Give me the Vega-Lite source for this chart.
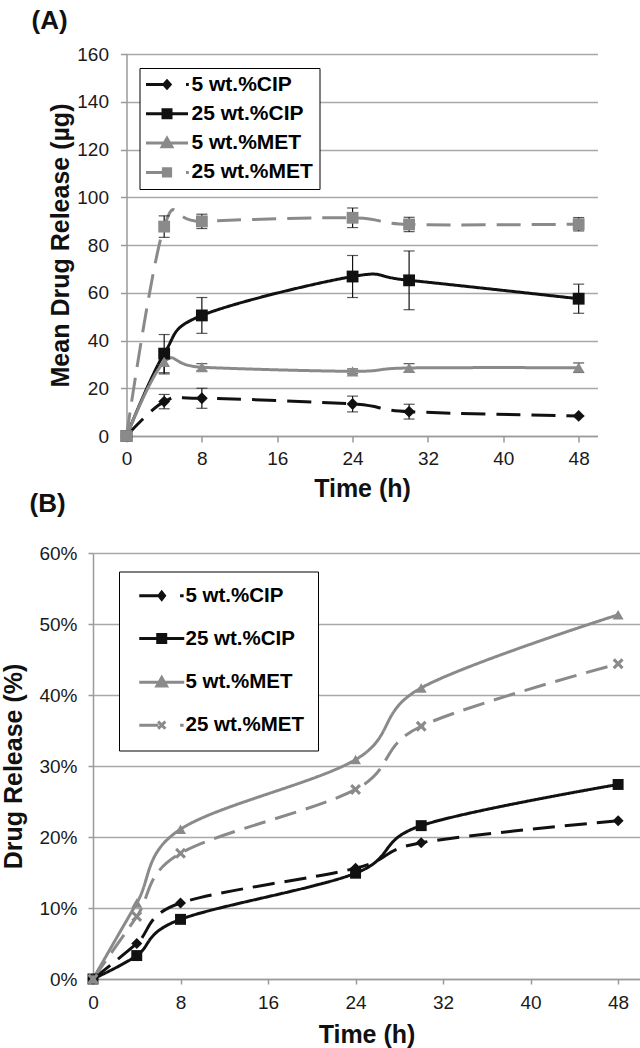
{
  "$schema": "https://vega.github.io/schema/vega-lite/v6.json",
  "padding": {"left": 1, "top": 7, "right": 0, "bottom": 0},
  "title": {"text": "(A)", "anchor": "start", "dx": 30, "offset": 11.5, "fontSize": 26, "font": "Liberation Sans", "fontWeight": "bold", "color": "#111111"},
  "center": true,
  "spacing": -10,
  "resolve": {"scale": {"color": "independent", "shape": "independent", "strokeDash": "independent", "stroke": "independent", "fill": "independent"}},
  "datasets": {
    "a": [
      {"series": "5 wt.%CIP", "time": 0, "value": 0, "err": 0},
      {"series": "5 wt.%CIP", "time": 4, "value": 14.4, "err": 3.0},
      {"series": "5 wt.%CIP", "time": 8, "value": 15.8, "err": 4.2},
      {"series": "5 wt.%CIP", "time": 24, "value": 13.4, "err": 3.3},
      {"series": "5 wt.%CIP", "time": 30, "value": 10.2, "err": 3.1},
      {"series": "5 wt.%CIP", "time": 48, "value": 8.4, "err": 0},
      {"series": "25 wt.%CIP", "time": 0, "value": 0, "err": 0},
      {"series": "25 wt.%CIP", "time": 4, "value": 34.5, "err": 8.0},
      {"series": "25 wt.%CIP", "time": 8, "value": 50.5, "err": 7.5},
      {"series": "25 wt.%CIP", "time": 24, "value": 66.8, "err": 8.8},
      {"series": "25 wt.%CIP", "time": 30, "value": 65.2, "err": 12.3},
      {"series": "25 wt.%CIP", "time": 48, "value": 57.5, "err": 6.1},
      {"series": "5 wt.%MET", "time": 0, "value": 0, "err": 0},
      {"series": "5 wt.%MET", "time": 4, "value": 31.0, "err": 5.0},
      {"series": "5 wt.%MET", "time": 8, "value": 28.8, "err": 1.5},
      {"series": "5 wt.%MET", "time": 24, "value": 27.1, "err": 1.0},
      {"series": "5 wt.%MET", "time": 30, "value": 28.5, "err": 1.8},
      {"series": "5 wt.%MET", "time": 48, "value": 28.6, "err": 2.0},
      {"series": "25 wt.%MET", "time": 0, "value": 0, "err": 0},
      {"series": "25 wt.%MET", "time": 4, "value": 87.7, "err": 4.5},
      {"series": "25 wt.%MET", "time": 8, "value": 89.9, "err": 3.0},
      {"series": "25 wt.%MET", "time": 24, "value": 91.4, "err": 4.1},
      {"series": "25 wt.%MET", "time": 30, "value": 88.6, "err": 3.0},
      {"series": "25 wt.%MET", "time": 48, "value": 88.7, "err": 2.8}
    ],
    "b": [
      {"series": "5 wt.%CIP", "time": 0, "value": 0},
      {"series": "5 wt.%CIP", "time": 4, "value": 0.050},
      {"series": "5 wt.%CIP", "time": 8, "value": 0.107},
      {"series": "5 wt.%CIP", "time": 24, "value": 0.156},
      {"series": "5 wt.%CIP", "time": 30, "value": 0.192},
      {"series": "5 wt.%CIP", "time": 48, "value": 0.223},
      {"series": "25 wt.%CIP", "time": 0, "value": 0},
      {"series": "25 wt.%CIP", "time": 4, "value": 0.033},
      {"series": "25 wt.%CIP", "time": 8, "value": 0.084},
      {"series": "25 wt.%CIP", "time": 24, "value": 0.149},
      {"series": "25 wt.%CIP", "time": 30, "value": 0.216},
      {"series": "25 wt.%CIP", "time": 48, "value": 0.274},
      {"series": "5 wt.%MET", "time": 0, "value": 0},
      {"series": "5 wt.%MET", "time": 4, "value": 0.107},
      {"series": "5 wt.%MET", "time": 8, "value": 0.211},
      {"series": "5 wt.%MET", "time": 24, "value": 0.309},
      {"series": "5 wt.%MET", "time": 30, "value": 0.410},
      {"series": "5 wt.%MET", "time": 48, "value": 0.513},
      {"series": "25 wt.%MET", "time": 0, "value": 0},
      {"series": "25 wt.%MET", "time": 4, "value": 0.088},
      {"series": "25 wt.%MET", "time": 8, "value": 0.177},
      {"series": "25 wt.%MET", "time": 24, "value": 0.267},
      {"series": "25 wt.%MET", "time": 30, "value": 0.356},
      {"series": "25 wt.%MET", "time": 48, "value": 0.444}
    ]
  },
  "vconcat": [
    {
      "width": 471,
      "height": 382,
      "data": {"name": "a"},
      "resolve": {"scale": {"shape": "independent", "fill": "independent", "stroke": "independent"}, "axis": {"y": "independent"}},
      "encoding": {
        "x": {"field": "time", "type": "quantitative", "scale": {"domain": [0, 50], "nice": false},
              "axis": {"values": [0, 8, 16, 24, 32, 40, 48], "grid": false, "title": "Time (h)", "tickSize": 6, "labelPadding": 7, "titlePadding": 8}}
      },
      "layer": [
        {
          "mark": {"type": "line", "interpolate": "cardinal", "strokeWidth": 3},
          "encoding": {
            "y": {"field": "value", "type": "quantitative", "scale": {"domain": [0, 160], "nice": false},
                  "axis": {"values": [0, 20, 40, 60, 80, 100, 120, 140, 160], "title": "Mean Drug Release (µg)", "tickSize": 6, "labelPadding": 12, "titlePadding": 3}},
            "color": {"field": "series", "type": "nominal", "scale": {"domain": ["25 wt.%MET", "5 wt.%MET", "25 wt.%CIP", "5 wt.%CIP"], "range": ["#8a8a8a", "#8a8a8a", "#111111", "#111111"]}, "legend": null},
            "strokeDash": {"field": "series", "type": "nominal", "scale": {"domain": ["25 wt.%MET", "5 wt.%MET", "25 wt.%CIP", "5 wt.%CIP"], "range": [[24, 11], [1, 0], [1, 0], [24, 11]]}, "legend": null}
          }
        },
        {
          "mark": {"type": "errorbar", "ticks": {"size": 11}, "color": "#111111", "thickness": 1.2},
          "encoding": {
            "y": {"field": "value", "type": "quantitative", "scale": {"domain": [0, 160], "nice": false}, "axis": null},
            "yError": {"field": "err"}
          }
        },
        {
          "mark": {"type": "point", "filled": true, "size": 140, "opacity": 1},
          "encoding": {
            "y": {"field": "value", "type": "quantitative", "scale": {"domain": [0, 160], "nice": false}, "axis": null},
            "color": {"field": "series", "type": "nominal", "scale": {"domain": ["25 wt.%MET", "5 wt.%MET", "25 wt.%CIP", "5 wt.%CIP"], "range": ["#8a8a8a", "#8a8a8a", "#111111", "#111111"]}, "legend": null},
            "shape": {"field": "series", "type": "nominal", "scale": {"domain": ["25 wt.%MET", "5 wt.%MET", "25 wt.%CIP", "5 wt.%CIP"], "range": ["square", "triangle-up", "square", "diamond"]}, "legend": null}
          }
        },
        {
          "mark": {"type": "point", "opacity": 0},
          "encoding": {
            "y": {"field": "value", "type": "quantitative", "scale": {"domain": [0, 160], "nice": false},
                  "axis": {"orient": "right", "labels": false, "ticks": false, "domain": false, "grid": false, "title": ".", "titleFontSize": 7, "titlePadding": 2, "titleOpacity": 0, "minExtent": 0, "maxExtent": 0}},
            "fill": {"field": "series", "type": "nominal", "scale": {"domain": ["5 wt.%CIP", "25 wt.%CIP", "5 wt.%MET", "25 wt.%MET"], "range": ["#111111", "#111111", "#8a8a8a", "#8a8a8a"]}},
            "stroke": {"field": "series", "type": "nominal", "scale": {"domain": ["5 wt.%CIP", "25 wt.%CIP", "5 wt.%MET", "25 wt.%MET"], "range": ["#111111", "#111111", "#8a8a8a", "#8a8a8a"]}},
            "shape": {"field": "series", "type": "nominal",
              "scale": {"domain": ["5 wt.%CIP", "25 wt.%CIP", "5 wt.%MET", "25 wt.%MET"],
                        "range": ["M-1.25,0H1.0M0.975,0L1.375,-0.45L1.775,0L1.375,0.45ZM3.75,0H4.1", "M-1.25,0H4M0.875,-0.5H1.875V0.5H0.875Z", "M-1.25,0H4M0.775,0.45L1.375,-0.6L1.975,0.45Z", "M-1.25,0H1.0M0.925,-0.45H1.825V0.45H0.925ZM3.75,0H4.1"]},
              "legend": {
                "title": null, "orient": "none", "legendX": 13, "legendY": 14, "padding": 6,
                "strokeColor": "#000000", "fillColor": "#ffffff",
                "labelFont": "Liberation Sans", "labelFontSize": 21, "labelFontWeight": "bold", "labelColor": "#000000",
                "symbolSize": 256, "symbolStrokeWidth": 3, "symbolOpacity": 1, "labelOffset": 25, "rowPadding": 7.3
              }
            }
          }
        }
      ]
    },
    {
      "width": 547,
      "height": 426,
      "data": {"name": "b"},
      "title": {"text": "(B)", "anchor": "start", "dx": 28, "offset": 27, "fontSize": 26, "font": "Liberation Sans", "fontWeight": "bold", "color": "#111111"},
      "resolve": {"scale": {"shape": "independent", "fill": "independent", "stroke": "independent"}},
      "encoding": {
        "x": {"field": "time", "type": "quantitative", "scale": {"domain": [0, 50], "nice": false},
              "axis": {"values": [0, 8, 16, 24, 32, 40, 48], "grid": false, "title": "Time (h)", "tickSize": 5, "labelPadding": 9.5, "titlePadding": 10}},
        "y": {"field": "value", "type": "quantitative", "scale": {"domain": [0, 0.6], "nice": false},
              "axis": {"values": [0, 0.1, 0.2, 0.3, 0.4, 0.5, 0.6], "format": ".0%", "title": "Drug Release (%)", "tickSize": 5, "labelPadding": 11, "titlePadding": 12.5}}
      },
      "layer": [
        {
          "mark": {"type": "line", "interpolate": "cardinal", "strokeWidth": 3},
          "encoding": {
            "color": {"field": "series", "type": "nominal", "scale": {"domain": ["25 wt.%MET", "5 wt.%MET", "25 wt.%CIP", "5 wt.%CIP"], "range": ["#8a8a8a", "#8a8a8a", "#111111", "#111111"]}, "legend": null},
            "strokeDash": {"field": "series", "type": "nominal", "scale": {"domain": ["25 wt.%MET", "5 wt.%MET", "25 wt.%CIP", "5 wt.%CIP"], "range": [[22, 10], [1, 0], [1, 0], [22, 10]]}, "legend": null}
          }
        },
        {
          "mark": {"type": "point", "filled": true, "size": 120, "opacity": 1},
          "encoding": {
            "color": {"field": "series", "type": "nominal", "scale": {"domain": ["25 wt.%MET", "5 wt.%MET", "25 wt.%CIP", "5 wt.%CIP"], "range": ["#8a8a8a", "#8a8a8a", "#111111", "#111111"]}, "legend": null},
            "shape": {"field": "series", "type": "nominal", "scale": {"domain": ["25 wt.%MET", "5 wt.%MET", "25 wt.%CIP", "5 wt.%CIP"], "range": ["M-1,-0.6L-0.6,-1L0,-0.4L0.6,-1L1,-0.6L0.4,0L1,0.6L0.6,1L0,0.4L-0.6,1L-1,0.6L-0.4,0Z", "triangle-up", "square", "diamond"]}, "legend": null}
          }
        },
        {
          "mark": {"type": "point", "opacity": 0},
          "encoding": {
            "fill": {"field": "series", "type": "nominal", "scale": {"domain": ["5 wt.%CIP", "25 wt.%CIP", "5 wt.%MET", "25 wt.%MET"], "range": ["#111111", "#111111", "#8a8a8a", "#8a8a8a"]}},
            "stroke": {"field": "series", "type": "nominal", "scale": {"domain": ["5 wt.%CIP", "25 wt.%CIP", "5 wt.%MET", "25 wt.%MET"], "range": ["#111111", "#111111", "#8a8a8a", "#8a8a8a"]}},
            "shape": {"field": "series", "type": "nominal",
              "scale": {"domain": ["5 wt.%CIP", "25 wt.%CIP", "5 wt.%MET", "25 wt.%MET"],
                        "range": ["M-0.5,0H1.94M1.96,0L2.31,-0.45L2.66,0L2.31,0.45ZM4.6,0H5.05", "M-0.5,0H5.125M1.81,-0.5H2.81V0.5H1.81Z", "M-0.5,0H5.125M1.71,0.45L2.31,-0.6L2.91,0.45Z", "M-0.5,0H1.9M1.86,-0.45L2.76,0.45M2.76,-0.45L1.86,0.45M4.6,0H5.05"]},
              "legend": {
                "title": null, "orient": "none", "legendX": 26, "legendY": 18.5, "padding": 14,
                "strokeColor": "#000000", "fillColor": "#ffffff",
                "labelFont": "Liberation Sans", "labelFontSize": 20.5, "labelFontWeight": "bold", "labelColor": "#000000",
                "symbolSize": 256, "symbolStrokeWidth": 3, "symbolOpacity": 1, "labelOffset": 32, "rowPadding": 21.8
              }
            }
          }
        }
      ]
    }
  ],
  "config": {
    "font": "Liberation Sans",
    "view": {"stroke": null},
    "axis": {
      "labelFont": "Liberation Sans", "labelFontSize": 19, "labelColor": "#1a1a1a", "labelFlush": false, "labelOverlap": false,
      "titleFont": "Liberation Sans", "titleFontSize": 25, "titleFontWeight": "bold", "titleColor": "#111111",
      "domainColor": "#9a9a9a", "domainWidth": 1.5, "tickColor": "#9a9a9a", "tickWidth": 1.5,
      "gridColor": "#a8a8a8", "gridWidth": 1.5
    }
  }
}
